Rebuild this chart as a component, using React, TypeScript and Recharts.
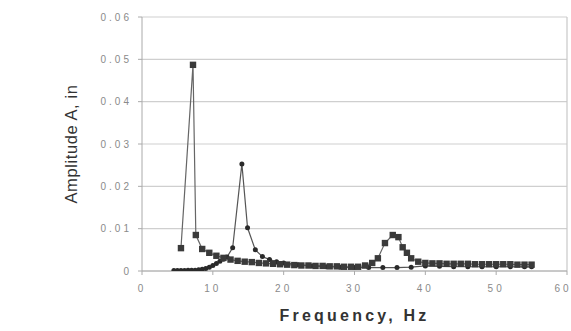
import React from "react";
import { LineChart, Line, XAxis, YAxis, CartesianGrid, ReferenceLine } from "recharts";

// Series A (square markers)
const freqA = [5.5, 7.2, 7.6, 8.5, 9.5, 10.5, 11.5, 12.5, 13.5, 14.5, 15.5, 16.5, 17.5, 18.5, 19.5, 20.5, 21.5, 22.5, 23.5, 24.5, 25.5, 26.5, 27.5, 28.5, 29.5, 30.5, 31.5, 32.5, 33.3, 34.3, 35.4, 36.2, 36.8, 37.4, 38, 39, 40, 41, 42, 43, 44, 45, 46, 47, 48, 49, 50, 51, 52, 53, 54, 55];
const ampA = [0.0054, 0.0487, 0.0085, 0.0052, 0.0043, 0.0036, 0.0031, 0.0027, 0.0024, 0.0022, 0.0021, 0.0019, 0.0018, 0.0017, 0.0016, 0.0015, 0.0014, 0.0013, 0.0013, 0.0012, 0.0012, 0.0011, 0.0011, 0.001, 0.001, 0.001, 0.0013, 0.0019, 0.003, 0.0066, 0.0085, 0.008, 0.0056, 0.0043, 0.003, 0.0022, 0.0019, 0.0018, 0.0018, 0.0017, 0.0017, 0.0017, 0.0017, 0.0016, 0.0016, 0.0016, 0.0016, 0.0016, 0.0016, 0.0015, 0.0015, 0.0015];

// Series B (small round markers)
const freqB = [4.5, 5, 5.5, 6, 6.5, 7, 7.5, 8, 8.5, 9, 9.5, 10, 10.5, 11, 11.5, 12, 12.8, 14.1, 14.9, 16, 17, 18, 19, 20, 22, 24, 26, 28, 30, 32, 34, 36, 38, 40, 42, 44, 46, 48, 50, 52, 54, 55];
const ampB = [0.0001, 0.0001, 0.0001, 0.0001, 0.0002, 0.0002, 0.0002, 0.0003, 0.0004, 0.0006, 0.0009, 0.0013, 0.0018, 0.0023, 0.0028, 0.0033, 0.0055, 0.0253, 0.0102, 0.005, 0.0034, 0.0027, 0.0022, 0.0019, 0.0015, 0.0012, 0.001, 0.0009, 0.0008, 0.0008, 0.0008, 0.0008, 0.0009, 0.0012, 0.0011, 0.001, 0.001, 0.001, 0.001, 0.001, 0.001, 0.001];

const xTicks = [0, 10, 20, 30, 40, 50, 60];
const yTicks = [0, 0.01, 0.02, 0.03, 0.04, 0.05, 0.06];
const xTitle = "Frequency, Hz";
const yTitle = "Amplitude A, in";

const dataA = freqA.map((f, i) => ({ f, a: ampA[i] }));
const dataB = freqB.map((f, i) => ({ f, b: ampB[i] }));

const SquareDot = (props: any) => {
  const { cx, cy, index } = props;
  if (cx == null || cy == null) return null;
  return <rect key={"sq" + index} x={cx - 3.2} y={cy - 3.2} width={6.4} height={6.4} fill="#3a3a3a" />;
};

const RoundDot = (props: any) => {
  const { cx, cy, index } = props;
  if (cx == null || cy == null) return null;
  return <circle key={"rd" + index} cx={cx} cy={cy} r={2.5} fill="#2a2a2a" />;
};

const tickStyle = { fill: "#8a8a8a", fontSize: 10, letterSpacing: 3, fontFamily: "Liberation Sans, Arial, sans-serif" };

export default function App() {
  return (
    <div style={{ position: "absolute", left: 0, top: 0, width: 571, height: 331, background: "#fff" }}>
      <LineChart width={571} height={331} margin={{ top: 17, right: 4, left: 0, bottom: 0 }}>
        <CartesianGrid horizontal={true} vertical={false} stroke="#cfcfcf" strokeWidth={1.2} />
        <XAxis
          type="number"
          dataKey="f"
          domain={[0, 60]}
          ticks={xTicks}
          allowDataOverflow
          height={60}
          tickSize={4}
          tickMargin={10}
          stroke="#aaaaaa"
          tick={tickStyle}
          label={{
            value: xTitle,
            position: "insideBottom",
            offset: 10,
            style: { fill: "#333", fontSize: 16, fontWeight: 700, letterSpacing: 3.2, fontFamily: "Liberation Sans, Arial, sans-serif" },
          }}
        />
        <YAxis
          type="number"
          domain={[0, 0.06]}
          ticks={yTicks}
          allowDataOverflow
          width={142}
          tickSize={4}
          tickMargin={6}
          stroke="#aaaaaa"
          tick={tickStyle}
          label={{
            value: yTitle,
            angle: -90,
            position: "center",
            style: { fill: "#333", fontSize: 16.5, letterSpacing: 0.6, fontFamily: "Liberation Sans, Arial, sans-serif", textAnchor: "middle" },
          }}
        />
        <ReferenceLine x={60} stroke="#c8c8c8" strokeWidth={1.2} />
        <Line
          data={dataB}
          dataKey="b"
          type="linear"
          stroke="#555"
          strokeWidth={1.2}
          dot={<RoundDot />}
          isAnimationActive={false}
        />
        <Line
          data={dataA}
          dataKey="a"
          type="linear"
          stroke="#666"
          strokeWidth={1.2}
          dot={<SquareDot />}
          isAnimationActive={false}
        />
      </LineChart>
    </div>
  );
}
